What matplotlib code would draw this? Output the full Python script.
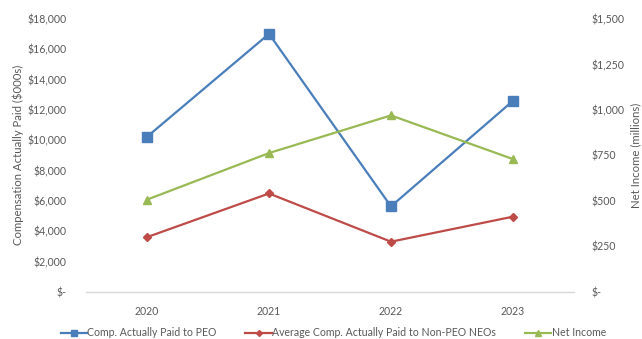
import matplotlib
matplotlib.use("Agg")
import matplotlib.pyplot as plt
from matplotlib.ticker import FuncFormatter, MultipleLocator

years = ["2020", "2021", "2022", "2023"]
cap_peo = [10230, 17020, 5640, 12600]          # $000s
cap_non_peo = [3610, 6490, 3310, 4960]         # $000s
net_income = [507, 763, 970, 730]              # $ millions

series_labels = ["Comp. Actually Paid to PEO",
                 "Average Comp. Actually Paid to Non-PEO NEOs",
                 "Net Income"]

TEXT = "#595959"
FONT = "Lato"
FS = 7.6

plt.rcParams["font.family"] = [FONT, "DejaVu Sans"]

fig = plt.figure(figsize=(6.42, 3.39), dpi=100)
ax = fig.add_axes([0.134, 0.139, 0.760, 0.805])
ax2 = ax.twinx()

x = list(range(len(years)))
l1, = ax.plot(x, cap_peo, color="#4A7EBB", lw=1.6, marker="s", ms=6.5,
              label=series_labels[0], zorder=3)
l2, = ax.plot(x, cap_non_peo, color="#BE4B48", lw=1.6, marker="D", ms=4.2,
              label=series_labels[1], zorder=3)
l3, = ax2.plot(x, net_income, color="#98B954", lw=1.6, marker="^", ms=6,
               label=series_labels[2], zorder=3)

ax.set_xlim(-0.5, len(years) - 0.5)
ax.set_ylim(0, 18000)
ax2.set_ylim(0, 1500)
ax.yaxis.set_major_locator(MultipleLocator(2000))
ax2.yaxis.set_major_locator(MultipleLocator(250))


def money(v, pos):
    return "$-" if v == 0 else "${:,.0f}".format(v)


ax.yaxis.set_major_formatter(FuncFormatter(money))
ax2.yaxis.set_major_formatter(FuncFormatter(money))
ax.set_xticks(x)
ax.set_xticklabels(years)

for a in (ax, ax2):
    for s in a.spines.values():
        s.set_visible(False)
    a.tick_params(length=0, labelsize=FS, labelcolor=TEXT)
ax.spines["bottom"].set_visible(True)
ax.spines["bottom"].set_color("#D9D9D9")
ax.spines["bottom"].set_linewidth(1.0)
ax.tick_params(axis="y", pad=14)
ax2.tick_params(axis="y", pad=13)
ax.tick_params(axis="x", pad=10)

fig.text(0.028, 0.543, "Compensation Actually Paid ($000s)", rotation=90,
         ha="center", va="center", fontsize=8.2, color=TEXT)
fig.text(0.991, 0.543, "Net Income (millions)", rotation=90,
         ha="center", va="center", fontsize=8.2, color=TEXT)

leg = fig.legend(handles=[l1, l2, l3], loc="center", ncol=3,
                 bbox_to_anchor=(0.519, 0.018), frameon=False,
                 fontsize=FS, handlelength=2.5, handletextpad=0.05,
                 columnspacing=2.7, markerscale=0.72)
for t in leg.get_texts():
    t.set_color(TEXT)

fig.savefig("out.png", dpi=100, facecolor="white")
